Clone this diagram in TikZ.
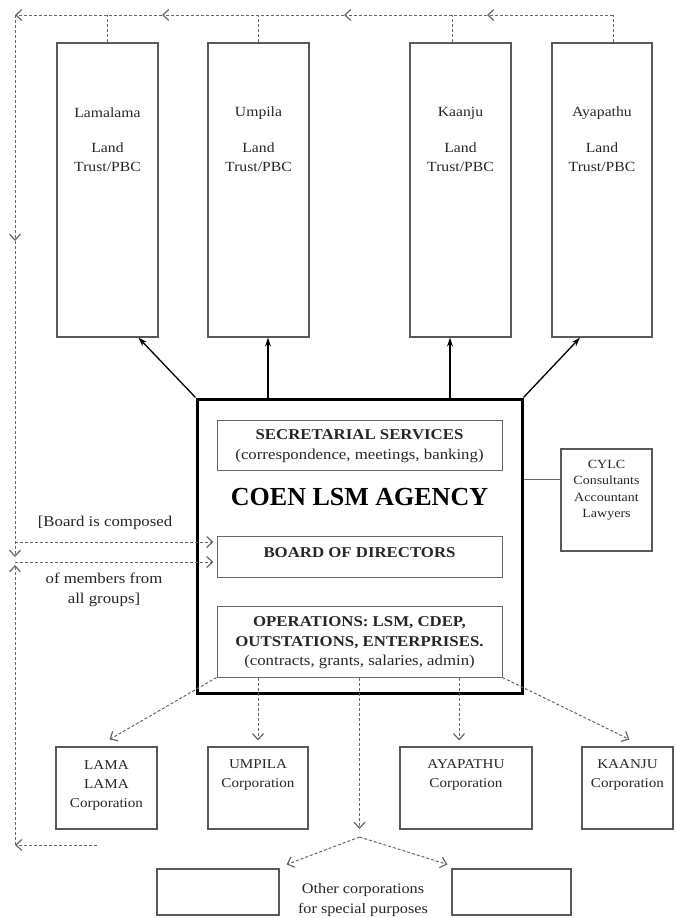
\documentclass[tikz,border=0pt]{standalone}
\usepackage{fontspec}
\setmainfont{Liberation Serif}
\newfontfamily\wide[FakeStretch=1.12]{Liberation Serif}
\usetikzlibrary{arrows.meta,calc}
\begin{document}
\begin{tikzpicture}[x=1pt,y=-1pt,
 tbox/.style={draw=black!65,line width=1.3pt,inner sep=0pt},
 ibox/.style={draw=black!60,line width=1pt,inner sep=0pt},
 agbox/.style={draw=black,line width=3pt,inner sep=0pt},
 txt/.style={align=center,inner sep=0pt,text=black!85},
 dsh/.style={draw=black!60,line width=1pt,dash pattern=on 3pt off 2pt},
 tip/.style={-{Straight Barb[length=6pt,width=11pt,line width=1.2pt]}},
 sarr/.style={draw=black,line width=1.3pt,-{Stealth[length=9pt,width=6pt]}},
 conn/.style={draw=black!60,line width=1pt},
]
\useasboundingbox (0,0) rectangle (676,918);

% land trust boxes
\node[tbox,minimum width=101pt,minimum height=294pt] (lama) at (107.5,190) {};
\node[tbox,minimum width=101pt,minimum height=294pt] (umpila) at (258.5,190) {};
\node[tbox,minimum width=101pt,minimum height=294pt] (kaanju) at (460.5,190) {};
\node[tbox,minimum width=100pt,minimum height=294pt] (ayapathu) at (602,190) {};

\begin{scope}[every node/.style={txt,font=\wide\fontsize{14}{19}\selectfont}]
\node (lamaN) at (107.5,113) {Lamalama};
\node (lamaL) at (107.5,157.5) {Land\\Trust/PBC};
\node (umpN) at (258.5,113) {Umpila};
\node (umpL) at (258.5,157.5) {Land\\Trust/PBC};
\node (kaaN) at (460.5,113) {Kaanju};
\node (kaaL) at (460.5,157.5) {Land\\Trust/PBC};
\node (ayaN) at (602,113) {Ayapathu};
\node (ayaL) at (602,157.5) {Land\\Trust/PBC};
\end{scope}

% agency
\node[agbox,minimum width=325pt,minimum height=294pt] (agency) at (359.5,546) {};
\node[ibox,minimum width=285pt,minimum height=50pt] (secr) at (359.5,445) {};
\node[ibox,minimum width=285pt,minimum height=41pt] (board) at (359.5,556.5) {};
\node[ibox,minimum width=285pt,minimum height=71pt] (ops) at (359.5,641.5) {};

\node[txt,font=\wide\fontsize{15}{20}\selectfont] (secrT) at (359.5,446)
  {\textbf{SECRETARIAL SERVICES}\\(correspondence, meetings, banking)};
\node[txt,text=black,font=\fontsize{26}{30}\selectfont\bfseries] (agT) at (359.5,497) {COEN LSM AGENCY};
\node[txt,font=\wide\fontsize{15}{20}\selectfont\bfseries] (boardT) at (359.5,553) {BOARD OF DIRECTORS};
\node[txt,font=\wide\fontsize{15}{19.5}\selectfont] (opsT) at (359.5,643)
  {\textbf{OPERATIONS: LSM, CDEP,}\\\textbf{OUTSTATIONS, ENTERPRISES.}\\(contracts, grants, salaries, admin)};

% CYLC
\node[tbox,line width=1.1pt,minimum width=91pt,minimum height=102pt] (cylc) at (606.5,500) {};
\node[txt,font=\wide\fontsize{12.5}{16.5}\selectfont] (cylcT) at (606.5,490)
  {CYLC\\Consultants\\Accountant\\Lawyers};
\coordinate (c1) at ($(cylc.west)+(0,-21)$);
\draw[conn] (agency.east |- c1) -- (c1);

% left annotations
\node[txt,font=\wide\fontsize{15}{20}\selectfont] (ann1) at (105,523) {[Board is composed};
\node[txt,font=\wide\fontsize{15}{20}\selectfont] (ann2) at (104,590) {of members from\\all groups]};

% corporations
\node[tbox,line width=1.1pt,minimum width=101pt,minimum height=82pt] (lamac) at (106.5,788) {};
\node[tbox,line width=1.1pt,minimum width=100pt,minimum height=82pt] (umpilac) at (258,788) {};
\node[tbox,line width=1.1pt,minimum width=132pt,minimum height=82pt] (ayac) at (466,788) {};
\node[tbox,line width=1.1pt,minimum width=91pt,minimum height=82pt] (kaanc) at (627.5,788) {};
\begin{scope}[every node/.style={txt,font=\wide\fontsize{13.5}{19}\selectfont}]
\node (lamacT) at (106.5,785) {LAMA\\LAMA\\Corporation};
\node (umpilacT) at (258,775) {UMPILA\\Corporation};
\node (ayacT) at (466,775) {AYAPATHU\\Corporation};
\node (kaancT) at (627.5,775) {KAANJU\\Corporation};
\end{scope}

% other corporations
\node[tbox,line width=1.1pt,minimum width=122pt,minimum height=46pt] (oth1) at (218,892) {};
\node[tbox,line width=1.1pt,minimum width=119pt,minimum height=46pt] (oth2) at (511.5,892) {};
\node[txt,font=\wide\fontsize{14.5}{20}\selectfont] (othT) at (363,900) {Other corporations\\for special purposes};

% solid arrows agency -> land trusts
\draw[sarr] (agency.north west) -- ($(lama.south)+(31,0)$);
\coordinate (u1) at ($(umpila.south)+(9.5,0)$);
\draw[sarr] (agency.north -| u1) -- (u1);
\coordinate (k1) at ($(kaanju.south)+(-10.5,0)$);
\draw[sarr] (agency.north -| k1) -- (k1);
\draw[sarr] (agency.north east) -- ($(ayapathu.south)+(-22,0)$);

% dashed arrows ops -> corporations
\draw[dsh,tip] (ops.south west) -- ($(lamac.north)+(3,-7)$);
\coordinate (e2) at ($(umpilac.north)+(0,-6)$);
\draw[dsh,tip] (ops.south -| e2) -- (e2);
\coordinate (fk) at (359.5,829);
\draw[dsh,tip] (ops.south) -- (fk);
\coordinate (fa) at ($(fk)+(0,8)$);
\draw[dsh,tip] (fa) -- ($(oth1.north east)+(7,-4)$);
\draw[dsh,tip] (fa) -- ($(oth2.north west)+(-4,-4)$);
\coordinate (e4) at ($(ayac.north)+(-7,-6)$);
\draw[dsh,tip] (ops.south -| e4) -- (e4);
\draw[dsh,tip] (ops.south east) -- ($(kaanc.north)+(2,-7)$);

% top feedback line
\coordinate (t1) at (107.5,15);
\coordinate (t2) at (258.5,15);
\coordinate (t3) at (452,15);
\coordinate (t4) at (613,15);
\coordinate (tl) at (15,15);
\coordinate (a1) at (487,15);
\coordinate (a2) at (344,15);
\coordinate (a3) at (162,15);
\draw[dsh] (lama.north) -- (t1);
\draw[dsh] (umpila.north) -- (t2);
\draw[dsh] (kaanju.north -| t3) -- (t3);
\draw[dsh] (ayapathu.north -| t4) -- (t4);
\draw[dsh,tip] (t4) -- (a1);
\draw[dsh,tip] (a1) -- (a2);
\draw[dsh,tip] (a2) -- (a3);
\draw[dsh,tip] (a3) -- (tl);
\coordinate (m1) at (15,241);
\coordinate (m2) at (15,557);
\draw[dsh,tip] (tl) -- (m1);
\draw[dsh,tip] (m1) -- (m2);

% dashed lines to the board
\coordinate (h1) at (15,542);
\coordinate (h2) at (15,562);
\draw[dsh,tip,shorten >=3pt] (h1) -- (board.west |- h1);
\draw[dsh,tip,shorten >=3pt] (h2) -- (board.west |- h2);

% bottom return line
\coordinate (b0) at (97,845);
\coordinate (bl) at (15,845);
\coordinate (m3) at (15,565);
\draw[dsh,tip] (b0) -- (bl);
\draw[dsh,tip] (bl) -- (m3);
\end{tikzpicture}
\end{document}
